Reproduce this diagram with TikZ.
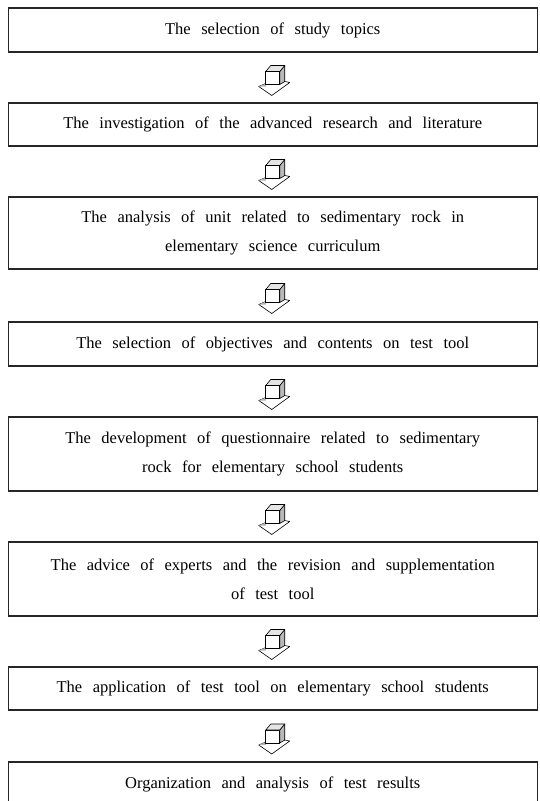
\documentclass[tikz,border=0pt]{standalone}
\usepackage{fontspec}
\setmainfont{Liberation Serif}
\usetikzlibrary{calc}
\begin{document}
\begin{tikzpicture}[x=1pt,y=-1pt,
  stepbox/.style={draw=black!85, line width=1.1pt, minimum width=529pt, inner sep=0pt,
    align=center, text width=524pt,
    font=\fontsize{16.5}{29}\selectfont,
    execute at begin node={\spaceskip=10.5pt\relax\xspaceskip=10.5pt\relax}},
  blockarrow/.pic={
    \draw[line width=0.6pt, fill=white, line join=round] (-14,6) -- (-7,3) -- (12,1) -- (17,2) -- (-1,15) -- cycle;
    \fill[gray!60] (-14,6) -- (-7,3) -- (-7,6) -- cycle;
    \draw[line width=0.6pt, fill=white] (-7,-9) rectangle (7,4);
    \draw[line width=0.6pt, fill=gray!55, line join=round] (7,-9) -- (12,-15) -- (12,1) -- (7,4) -- cycle;
    \draw[line width=0.6pt, fill=gray!20, line join=round] (-7,-9) -- (-2,-15) -- (12,-15) -- (7,-9) -- cycle;
  }]
\useasboundingbox (0,0) rectangle (539,801);
\clip (0,0) rectangle (539,801);
\node[stepbox, minimum height=44pt] (b1) at (272.75,30) {The selection of study topics};
\node[stepbox, minimum height=43pt] (b2) at (272.75,124.5) {The investigation of the advanced research and literature};
\node[stepbox, minimum height=72pt] (b3) at (272.75,233) {The analysis of unit related to sedimentary rock in\\ elementary science curriculum};
\node[stepbox, minimum height=44pt] (b4) at (272.75,344) {The selection of objectives and contents on test tool};
\node[stepbox, minimum height=74pt] (b5) at (272.75,454) {The development of questionnaire related to sedimentary\\ rock for elementary school students};
\node[stepbox, minimum height=74pt] (b6) at (272.75,579) {The advice of experts and the revision and supplementation\\ of test tool};
\node[stepbox, minimum height=43pt] (b7) at (272.75,688.5) {The application of test tool on elementary school students};
\node[stepbox, minimum height=44pt] (b8) at (272.75,784) {Organization and analysis of test results};
\foreach \a/\b in {b1/b2,b2/b3,b3/b4,b4/b5,b5/b6,b6/b7,b7/b8}{
  \pic at ($(\a.south)!0.5!(\b.north)+(0,3)$) {blockarrow};
}
\end{tikzpicture}
\end{document}
